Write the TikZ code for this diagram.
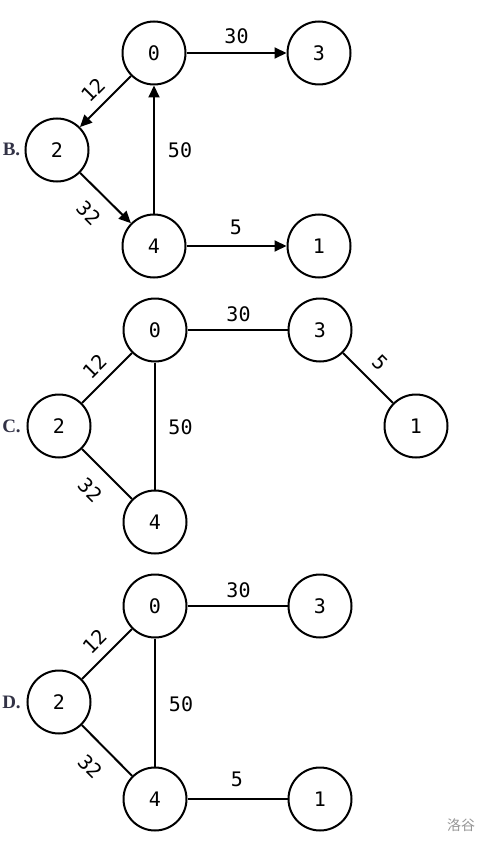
\documentclass[tikz,border=0pt]{standalone}
\usepackage{fontspec}
\setmainfont{Liberation Serif}
\setmonofont{DejaVu Sans Mono}
\newfontfamily\cjk{Noto Sans CJK SC}
\usetikzlibrary{arrows.meta}
\definecolor{optc}{RGB}{50,50,70}
\definecolor{wmark}{RGB}{150,150,150}
\begin{document}
\begin{tikzpicture}[x=1pt,y=-1pt,
  vert/.style={circle,draw,line width=2pt,minimum size=63pt,inner sep=0pt,font=\ttfamily\fontsize{20}{24}\selectfont},
  edge/.style={line width=2pt},
  arr/.style={edge,-{Triangle[length=12pt,width=11pt]}},
  wlab/.style={font=\ttfamily\fontsize{20}{24}\selectfont,inner sep=0pt},
  opt/.style={font=\bfseries\fontsize{19}{22}\selectfont,text=optc,inner sep=0pt}]
\useasboundingbox (0,0) rectangle (488,845);
% ---------- B ----------
\node[vert] (b0) at (154,53) {0};
\node[vert] (b3) at (319,53) {3};
\node[vert] (b2) at (57,150) {2};
\node[vert] (b4) at (154,246) {4};
\node[vert] (b1) at (319,246) {1};
\node[opt] (bl) at (11.5,149) {B.};
\draw[arr] (b0) -- (b3);
\draw[arr] (b0) -- (b2);
\draw[arr] (b2) -- (b4);
\draw[arr] (b4) -- (b0);
\draw[arr] (b4) -- (b1);
\node[wlab] (bw30) at (236.5,36) {30};
\node[wlab,rotate=45] (bw12) at (93,90) {12};
\node[wlab] (bw50) at (180,150.5) {50};
\node[wlab,rotate=-45] (bw32) at (88.5,213) {32};
\node[wlab] (bw5) at (236,227) {5};
% ---------- C ----------
\node[vert] (c0) at (155,330) {0};
\node[vert] (c3) at (320,330) {3};
\node[vert] (c2) at (59,426) {2};
\node[vert] (c4) at (155,522) {4};
\node[vert] (c1) at (416,426) {1};
\node[opt] (cl) at (11.5,426) {C.};
\draw[edge] (c0) -- (c3);
\draw[edge] (c0) -- (c2);
\draw[edge] (c2) -- (c4);
\draw[edge] (c0) -- (c4);
\draw[edge] (c3) -- (c1);
\node[wlab] (cw30) at (238.5,314.5) {30};
\node[wlab,rotate=45] (cw12) at (94.5,366.5) {12};
\node[wlab] (cw50) at (180.5,427.5) {50};
\node[wlab,rotate=-45] (cw32) at (90,490) {32};
\node[wlab,rotate=-45] (cw5) at (380,363) {5};
% ---------- D ----------
\node[vert] (d0) at (155,606) {0};
\node[vert] (d3) at (320,606) {3};
\node[vert] (d2) at (59,702) {2};
\node[vert] (d4) at (155,799) {4};
\node[vert] (d1) at (320,799) {1};
\node[opt] (dl) at (11.5,702) {D.};
\draw[edge] (d0) -- (d3);
\draw[edge] (d0) -- (d2);
\draw[edge] (d2) -- (d4);
\draw[edge] (d0) -- (d4);
\draw[edge] (d4) -- (d1);
\node[wlab] (dw30) at (238.5,590) {30};
\node[wlab,rotate=45] (dw12) at (94.5,641.5) {12};
\node[wlab] (dw50) at (181,704) {50};
\node[wlab,rotate=-45] (dw32) at (90,766.5) {32};
\node[wlab] (dw5) at (237,779.5) {5};
% watermark
\node[font=\cjk\fontsize{14}{16}\selectfont,text=wmark,inner sep=0pt] (wm) at (461,825) {洛谷};
\end{tikzpicture}
\end{document}
